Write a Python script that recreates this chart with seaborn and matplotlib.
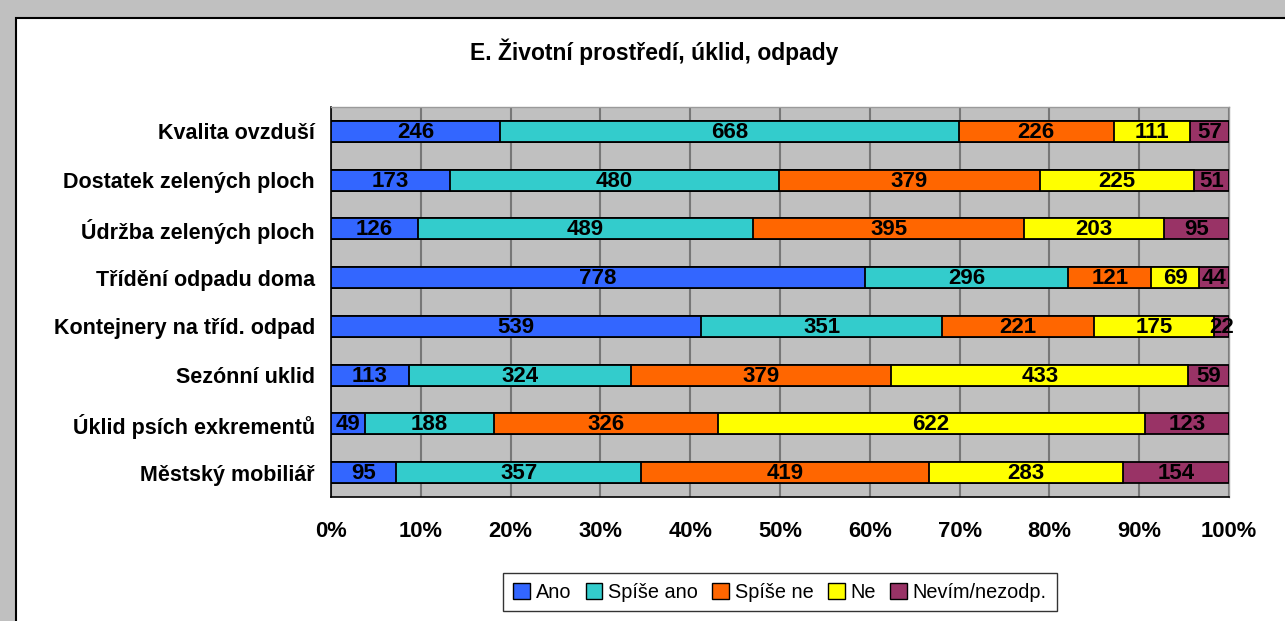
import numpy as np
import pandas as pd
import matplotlib.pyplot as plt
import matplotlib.patches as mpatches
import seaborn as sns

# Data (counts per answer)
categories = ['Kvalita ovzduší', 'Dostatek zelených ploch', 'Údržba zelených ploch',
              'Třídění odpadu doma', 'Kontejnery na tříd. odpad', 'Sezónní uklid',
              'Úklid psích exkrementů', 'Městský mobiliář']
answers = ['Ano', 'Spíše ano', 'Spíše ne', 'Ne', 'Nevím/nezodp.']
ano = [246, 173, 126, 778, 539, 113, 49, 95]
spise_ano = [668, 480, 489, 296, 351, 324, 188, 357]
spise_ne = [226, 379, 395, 121, 221, 379, 326, 419]
ne = [111, 225, 203, 69, 175, 433, 622, 283]
nevim = [57, 51, 95, 44, 22, 59, 123, 154]
colors = ['#3366FF', '#33CCCC', '#FF6600', '#FFFF00', '#993366']

counts = pd.DataFrame({'Ano': ano, 'Spíše ano': spise_ano, 'Spíše ne': spise_ne,
                       'Ne': ne, 'Nevím/nezodp.': nevim}, index=categories)
pct = counts.div(counts.sum(axis=1), axis=0) * 100
cum = pct.cumsum(axis=1)

sns.set_style('white')
plt.rcParams['font.family'] = ['Liberation Sans', 'DejaVu Sans']
plt.rcParams['text.color'] = 'black'
plt.rcParams['xtick.color'] = 'black'
plt.rcParams['ytick.color'] = 'black'

fig = plt.figure(figsize=(12.85, 6.21), dpi=100, facecolor='#C0C0C0')
# white chart panel with black border
panel = mpatches.Rectangle((16 / 1285, -0.05), 1.1, 1 - 18 / 621 + 0.05,
                           transform=fig.transFigure, facecolor='white',
                           edgecolor='black', linewidth=1.5, zorder=-1)
fig.patches.append(panel)

ax = fig.add_axes([331 / 1285, 1 - 497 / 621, 898 / 1285, 390 / 621])
ax.set_facecolor('#C0C0C0')

# stacked bars: draw cumulative totals from back to front
for ans, col in reversed(list(zip(answers, colors))):
    sns.barplot(x=cum[ans].values, y=categories, orient='h', color=col,
                width=0.43, edgecolor='black', linewidth=1.3, saturation=1, ax=ax, zorder=3)

# value labels
for i, cat in enumerate(categories):
    left = 0
    for ans in answers:
        w = pct.loc[cat, ans]
        ax.text(left + w / 2, i + 0.02, str(counts.loc[cat, ans]), ha='center', va='center',
                fontsize=16, fontweight='bold', color='black', zorder=5)
        left += w

ax.set_xlim(0, 100)
ax.set_ylim(7.5, -0.5)
ax.set_xticks(np.arange(0, 101, 10))
ax.set_xticklabels([f'{v}%' for v in range(0, 101, 10)], fontsize=15.8, fontweight='bold')
ax.set_yticks(range(len(categories)))
ax.set_yticklabels(categories, fontsize=15.5, fontweight='bold')
ax.set_yticks(np.arange(-0.5, 8, 1), minor=True)
ax.tick_params(axis='y', which='major', length=0, pad=11.5)
ax.tick_params(axis='y', which='minor', length=6, direction='out', color='black')
ax.tick_params(axis='x', length=6, direction='out', color='black', pad=11)
ax.grid(axis='x', color='#777777', linewidth=1.5, zorder=1)
ax.set_axisbelow(True)
ax.set_xlabel('')
ax.set_ylabel('')
for s in ['top', 'right']:
    ax.spines[s].set_color('#9A9A9A')
    ax.spines[s].set_linewidth(1.0)
for s in ['left', 'bottom']:
    ax.spines[s].set_color('black')
    ax.spines[s].set_linewidth(1.2)

fig.text(654 / 1285, 1 - 52 / 621, 'E. Životní prostředí, úklid, odpady',
         ha='center', va='center', fontsize=16.5, fontweight='bold')

handles = [mpatches.Patch(facecolor=c, edgecolor='black', label=a) for a, c in zip(answers, colors)]
fig.legend(handles=handles, loc='center', bbox_to_anchor=(780 / 1285, 1 - 592 / 621),
           ncol=5, fontsize=14.3, frameon=True, fancybox=False, edgecolor='black',
           handlelength=0.85, handleheight=0.85, handletextpad=0.3, columnspacing=0.7,
           borderpad=0.5)

plt.savefig('out.png', dpi=100, facecolor=fig.get_facecolor())
